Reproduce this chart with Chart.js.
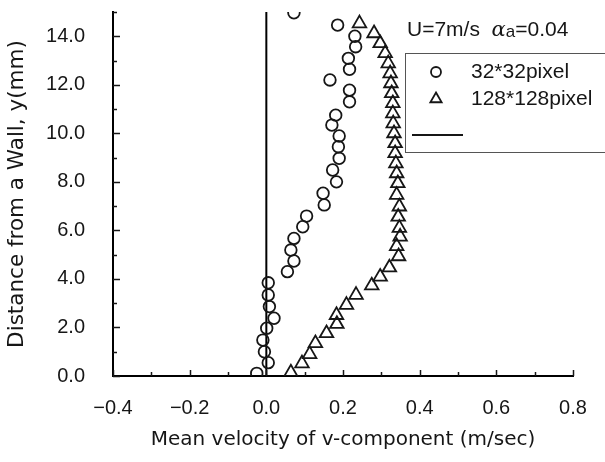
<!DOCTYPE html>
<html>
<head>
<meta charset="utf-8">
<script src="https://cdn.jsdelivr.net/npm/chart.js@4.4.1/dist/chart.umd.min.js"></script>
<style>
html,body{margin:0;padding:0;background:#fff;}
#velChart{display:block;}
</style>
</head>
<body>
<canvas id="velChart" width="605" height="462"></canvas>
<script>
// 32*32 pixel interrogation window (circles)
const height32=[0.11,0.55,1.0,1.48,1.97,2.38,2.86,3.34,3.84,4.30,4.74,5.19,5.67,6.15,6.59,7.05,7.53,8.0,8.49,8.97,9.45,9.89,10.34,10.75,11.3,11.78,12.2,12.64,13.09,13.57,14.0,14.46,14.97];
const velocity32=[-0.025,0.005,-0.005,-0.009,0.001,0.02,0.008,0.005,0.005,0.055,0.072,0.064,0.072,0.095,0.105,0.151,0.148,0.183,0.173,0.19,0.188,0.19,0.171,0.181,0.217,0.217,0.166,0.217,0.214,0.233,0.231,0.186,0.072];

// 128*128 pixel interrogation window (triangles)
const height128=[0.14,0.52,0.9,1.35,1.76,2.14,2.51,2.93,3.34,3.73,4.09,4.47,4.93,5.35,5.74,6.1,6.56,6.98,7.46,7.94,8.35,8.76,9.18,9.59,10.0,10.41,10.82,11.24,11.65,12.06,12.47,12.88,13.3,13.71,14.12,14.53];
const velocity128=[0.064,0.093,0.113,0.128,0.157,0.184,0.183,0.209,0.234,0.275,0.297,0.321,0.345,0.34,0.349,0.347,0.344,0.347,0.34,0.343,0.34,0.338,0.336,0.336,0.333,0.331,0.33,0.33,0.327,0.325,0.323,0.318,0.31,0.297,0.281,0.243];

// zero line
const zeroLineX=[0,0];
const zeroLineY=[0,15];

const seriesLabels=['32*32pixel','128*128pixel',''];
const legendTitle=['U=7m/s  ','α','a','=0.04'];

const xMin=-0.4, xMax=0.8, xStep=0.1;
const yMin=0, yMax=15, yStep=1;

const ink='#161616';

function toPoints(xs,ys){
return xs.map((x,i)=>({x:x,y:ys[i]}));
}

// ticks point inward, like the original plot
const innerTicks={
id:'innerTicks',
afterDraw(chart){
const ctx=chart.ctx;
const xs=chart.scales.x, ys=chart.scales.y;
const area=chart.chartArea;
ctx.save();
ctx.strokeStyle=ink;
ctx.lineWidth=1.5;
xs.ticks.forEach(t=>{
const px=Math.round(xs.getPixelForValue(t.value))+0.5;
const len=Math.round(t.value*10)%2===0?6:4;
ctx.beginPath();
ctx.moveTo(px,area.bottom);
ctx.lineTo(px,area.bottom-len);
ctx.stroke();
});
ys.ticks.forEach(t=>{
const py=Math.round(ys.getPixelForValue(t.value))+0.5;
const len=t.value%2===0?7:4;
ctx.beginPath();
ctx.moveTo(area.left,py);
ctx.lineTo(area.left+len,py);
ctx.stroke();
});
ctx.restore();
}
};

// boxed legend in the upper right corner
const boxLegend={
id:'boxLegend',
afterDraw(chart){
const ctx=chart.ctx;
const ds=chart.data.datasets;
ctx.save();
ctx.fillStyle=ink;
ctx.textBaseline='middle';
let tx=407;
ctx.font='21px "Liberation Sans", Arial, sans-serif';
ctx.fillText(legendTitle[0],tx,30);
tx+=ctx.measureText(legendTitle[0]).width;
ctx.font='italic 21px "DejaVu Serif", serif';
ctx.fillText(legendTitle[1],tx,31);
tx+=ctx.measureText(legendTitle[1]).width;
ctx.font='17px "Liberation Sans", Arial, sans-serif';
ctx.fillText(legendTitle[2],tx,32);
tx+=ctx.measureText(legendTitle[2]).width;
ctx.font='21px "Liberation Sans", Arial, sans-serif';
ctx.fillText(legendTitle[3],tx,30);

ctx.strokeStyle='#555';
ctx.lineWidth=1;
ctx.strokeRect(405.5,53.5,240,99);

const rows=[72,99];
[0,1].forEach(i=>{
ctx.fillStyle='rgba(0,0,0,0)';
ctx.strokeStyle=ink;
ctx.lineWidth=1.8;
Chart.helpers.drawPoint(ctx,{
pointStyle:ds[i].pointStyle,
radius:i===0?5:6.5,
borderWidth:1.8,
rotation:0
},436,rows[i]);
ctx.fillStyle=ink;
ctx.font='21px "Liberation Sans", Arial, sans-serif';
ctx.fillText(ds[i].label,471,rows[i]);
});
ctx.strokeStyle=ink;
ctx.lineWidth=2;
ctx.beginPath();
ctx.moveTo(412,135);
ctx.lineTo(463,135);
ctx.stroke();
ctx.restore();
}
};

const ctx=document.getElementById('velChart');

new Chart(ctx,{
type:'scatter',
data:{
datasets:[{
label:seriesLabels[0],
data:toPoints(velocity32,height32),
pointStyle:'circle',
pointRadius:5.8,
borderWidth:1.8,
borderColor:ink,
backgroundColor:'rgba(0,0,0,0)'
},{
label:seriesLabels[1],
data:toPoints(velocity128,height128),
pointStyle:'triangle',
pointRadius:7.8,
borderWidth:1.8,
borderColor:ink,
backgroundColor:'rgba(0,0,0,0)'
},{
label:seriesLabels[2],
data:toPoints(zeroLineX,zeroLineY),
showLine:true,
pointRadius:0,
borderWidth:2,
borderColor:'#000'
}]
},
options:{
responsive:false,
animation:false,
layout:{padding:{top:12,right:32,left:0,bottom:0}},
plugins:{
legend:{display:false},
tooltip:{enabled:false}
},
scales:{
x:{
type:'linear',
min:xMin,
max:xMax,
afterFit(scale){
scale.height=86;
scale.paddingLeft=0;
scale.paddingRight=0;
},
border:{color:'#000',width:2},
grid:{display:true,drawOnChartArea:false,drawTicks:false},
ticks:{
stepSize:xStep,
autoSkip:false,
maxRotation:0,
padding:20,
color:ink,
font:{family:'"Liberation Sans", Arial, sans-serif',size:20},
callback(v){
const k=Math.round(v*10);
if(k%2!==0) return '';
return (k/10).toFixed(1).replace('-','\u2212');
}
},
title:{
display:true,
text:'Mean velocity of v-component (m/sec)',
color:ink,
font:{family:'"DejaVu Sans", sans-serif',size:20},
padding:{top:10,bottom:10}
}
},
y:{
type:'linear',
min:yMin,
max:yMax,
afterFit(scale){
scale.width=113;
scale.paddingTop=0;
scale.paddingBottom=0;
},
border:{color:'#000',width:2},
grid:{display:true,drawOnChartArea:false,drawTicks:false},
ticks:{
stepSize:yStep,
autoSkip:false,
padding:28,
color:ink,
font:{family:'"Liberation Sans", Arial, sans-serif',size:20},
callback(v){
return v%2===0?v.toFixed(1):'';
}
},
title:{
display:true,
text:'Distance from a Wall, y(mm)',
color:ink,
font:{family:'"DejaVu Sans", sans-serif',size:21.5},
padding:{top:5,bottom:5}
}
}
}
},
plugins:[innerTicks,boxLegend]
});
</script>
</body>
</html>
